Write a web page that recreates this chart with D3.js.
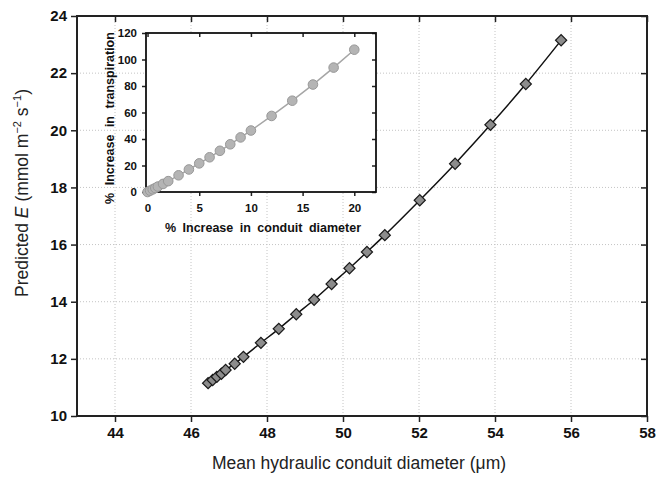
<!DOCTYPE html>
<html>
<head>
<meta charset="utf-8">
<script src="https://cdn.jsdelivr.net/npm/d3@7"></script>
<style>
  body { margin: 0; background: #fff; }
  svg { font-family: "Liberation Sans", Arial, sans-serif; }
</style>
</head>
<body>
<div id="vis"></div>
<script>
// main plot: diameter (um) vs predicted E
const diameter = [46.45, 46.57, 46.68, 46.80, 46.91, 47.15, 47.38, 47.84, 48.31, 48.77,
                  49.24, 49.70, 50.17, 50.63, 51.10, 52.02, 52.95, 53.88, 54.81, 55.74];
const predictedE = [11.15, 11.26, 11.37, 11.48, 11.61, 11.83, 12.07, 12.56, 13.05, 13.56,
                    14.07, 14.62, 15.17, 15.74, 16.33, 17.55, 18.83, 20.19, 21.62, 23.15];
// inset: % increase diameter vs % increase transpiration
const pctDiameter = [0, 0.25, 0.5, 0.75, 1, 1.5, 2, 3, 4, 5, 6, 7, 8, 9, 10, 12, 14, 16, 18, 20];
const pctTransp = [0, 1.0, 2.0, 3.0, 4.1, 6.1, 8.2, 12.6, 17.0, 21.6, 26.2, 31.1, 36.0, 41.2,
                   46.4, 57.4, 68.9, 81.1, 93.9, 107.4];

const xTicks = [44, 46, 48, 50, 52, 54, 56, 58];
const yTicks = [10, 12, 14, 16, 18, 20, 22, 24];
const insetXTicks = [0, 5, 10, 15, 20];
const insetYTicks = [0, 20, 40, 60, 80, 100, 120];

const W = 657, H = 478;
const plot = { left: 77, right: 647, top: 16, bottom: 416 };
const inset = { left: 146, right: 376, top: 33, bottom: 192 };

const svg = d3.select('#vis').append('svg')
    .attr('width', W).attr('height', H);

const x = d3.scaleLinear().domain([43, 58]).range([plot.left, plot.right]);
const y = d3.scaleLinear().domain([10, 24]).range([plot.bottom, plot.top]);

// grid
svg.append('g').selectAll('line')
    .data(xTicks.slice(0, -1))
    .enter().append('line')
    .attr('x1', d => x(d)).attr('x2', d => x(d))
    .attr('y1', plot.top).attr('y2', plot.bottom)
    .attr('stroke', '#c4c4c4').attr('stroke-dasharray', '1,2');
svg.append('g').selectAll('line')
    .data(yTicks.slice(1, -1))
    .enter().append('line')
    .attr('y1', d => y(d)).attr('y2', d => y(d))
    .attr('x1', plot.left).attr('x2', plot.right)
    .attr('stroke', '#c4c4c4').attr('stroke-dasharray', '1,2');

function styleAxis(g, size) {
    g.select('.domain').remove();
    g.selectAll('.tick line').attr('stroke', '#222').attr('stroke-width', 1.5);
    g.selectAll('.tick text').attr('fill', '#111').attr('font-weight', 'bold').attr('font-size', size);
}

// main axes
svg.append('g').attr('transform', `translate(0,${plot.bottom})`)
    .call(d3.axisBottom(x).tickValues(xTicks).tickSize(6).tickPadding(5))
    .call(g => styleAxis(g, 15));
svg.append('g').attr('transform', `translate(${plot.left},0)`)
    .call(d3.axisLeft(y).tickValues(yTicks).tickSize(6).tickPadding(4))
    .call(g => styleAxis(g, 15));
svg.append('g').attr('transform', `translate(0,${plot.top})`)
    .call(d3.axisBottom(x).tickValues(xTicks).tickSize(6).tickFormat(''))
    .call(g => styleAxis(g, 15));
svg.append('g').attr('transform', `translate(${plot.right},0)`)
    .call(d3.axisLeft(y).tickValues(yTicks).tickSize(6).tickFormat(''))
    .call(g => styleAxis(g, 15));

svg.append('rect')
    .attr('x', plot.left).attr('y', plot.top)
    .attr('width', plot.right - plot.left).attr('height', plot.bottom - plot.top)
    .attr('fill', 'none').attr('stroke', '#222').attr('stroke-width', 2);

// main series
const mainData = diameter.map((d, i) => ({ x: d, y: predictedE[i] }));
svg.append('path')
    .datum(mainData)
    .attr('fill', 'none').attr('stroke', '#111').attr('stroke-width', 1.5)
    .attr('d', d3.line().x(d => x(d.x)).y(d => y(d.y)).curve(d3.curveMonotoneX));

svg.append('g').selectAll('path')
    .data(mainData)
    .enter().append('path')
    .attr('d', d3.symbol(d3.symbolSquare, 62))
    .attr('transform', d => `translate(${x(d.x)},${y(d.y)}) rotate(45)`)
    .attr('fill', '#8c8c8c').attr('stroke', '#1a1a1a').attr('stroke-width', 1.2);

// main titles
svg.append('text')
    .attr('x', 359).attr('y', 469)
    .attr('text-anchor', 'middle').attr('font-size', 17.5).attr('fill', '#222')
    .text('Mean hydraulic conduit diameter (\u03bcm)');

const yTitle = svg.append('text')
    .attr('transform', 'translate(28,193) rotate(-90)')
    .attr('text-anchor', 'middle').attr('font-size', 17.5).attr('fill', '#222');
yTitle.append('tspan').text('Predicted ');
yTitle.append('tspan').attr('font-style', 'italic').text('E');
yTitle.append('tspan').text(' (mmol m');
yTitle.append('tspan').attr('font-size', 11).attr('dy', -7).text('\u22122');
yTitle.append('tspan').attr('dy', 7).text(' s');
yTitle.append('tspan').attr('font-size', 11).attr('dy', -7).text('\u22121');
yTitle.append('tspan').attr('dy', 7).text(')');

// inset
const ix = d3.scaleLinear().domain([-0.15, 22.1]).range([inset.left, inset.right]);
const iy = d3.scaleLinear().domain([0, 120]).range([inset.bottom, inset.top]);

svg.append('rect')
    .attr('x', inset.left).attr('y', inset.top)
    .attr('width', inset.right - inset.left).attr('height', inset.bottom - inset.top)
    .attr('fill', '#fff');

svg.append('g').attr('transform', `translate(0,${inset.bottom})`)
    .call(d3.axisBottom(ix).tickValues(insetXTicks).tickSize(4).tickPadding(8))
    .call(g => styleAxis(g, 11.5));
svg.append('g').attr('transform', `translate(${inset.left},0)`)
    .call(d3.axisLeft(iy).tickValues(insetYTicks).tickSize(4).tickPadding(5))
    .call(g => styleAxis(g, 11.5));
svg.append('g').attr('transform', `translate(0,${inset.top})`)
    .call(d3.axisBottom(ix).tickValues(insetXTicks).tickSize(4).tickFormat(''))
    .call(g => styleAxis(g, 11.5));
svg.append('g').attr('transform', `translate(${inset.right},0)`)
    .call(d3.axisLeft(iy).tickValues(insetYTicks).tickSize(4).tickFormat(''))
    .call(g => styleAxis(g, 11.5));

svg.append('rect')
    .attr('x', inset.left).attr('y', inset.top)
    .attr('width', inset.right - inset.left).attr('height', inset.bottom - inset.top)
    .attr('fill', 'none').attr('stroke', '#111').attr('stroke-width', 1.8);

const insetData = pctDiameter.map((d, i) => ({ x: d, y: pctTransp[i] }));
svg.append('path')
    .datum(insetData)
    .attr('fill', 'none').attr('stroke', '#a6a6a6').attr('stroke-width', 1.5)
    .attr('d', d3.line().x(d => ix(d.x)).y(d => iy(d.y)));

svg.append('g').selectAll('circle')
    .data(insetData)
    .enter().append('circle')
    .attr('cx', d => ix(d.x)).attr('cy', d => iy(d.y)).attr('r', 4.8)
    .attr('fill', '#b4b4b4').attr('stroke', '#989898').attr('stroke-width', 1);

svg.append('text')
    .attr('x', 263).attr('y', 232)
    .attr('text-anchor', 'middle').attr('font-size', 12.5).attr('font-weight', 'bold')
    .attr('fill', '#111').attr('word-spacing', 3)
    .text('% Increase in conduit diameter');
svg.append('text')
    .attr('transform', 'translate(114,118) rotate(-90)')
    .attr('text-anchor', 'middle').attr('font-size', 12.5).attr('font-weight', 'bold')
    .attr('fill', '#111').attr('word-spacing', 4)
    .text('% Increase in transpiration');
</script>
</body>
</html>
